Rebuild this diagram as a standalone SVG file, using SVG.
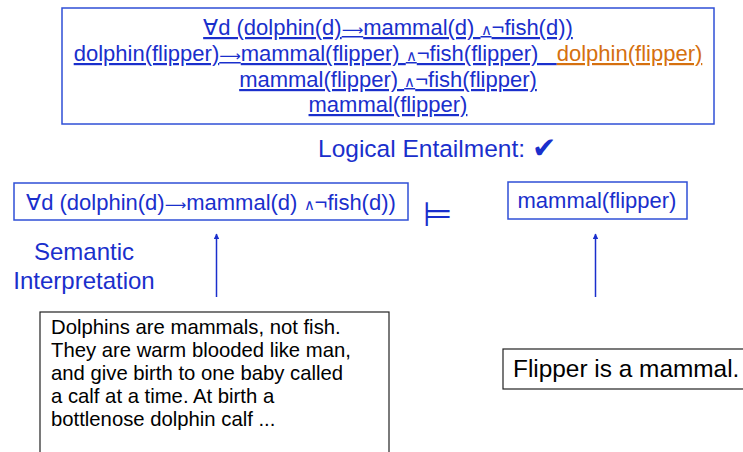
<svg xmlns="http://www.w3.org/2000/svg" width="743" height="452" viewBox="0 0 743 452">
<defs>
<style>
.f{font-family:"Liberation Sans",Arial,sans-serif}
.blue{fill:#1a2fcc}
.orange{fill:#d5700f}
.ul{text-decoration:underline;text-decoration-thickness:2px;text-underline-offset:3px}
.ar{font-family:"DejaVu Sans",sans-serif;font-size:15px}
.wd{font-size:15px}
.bbox{fill:none;stroke:#2f4fd6;stroke-width:1.5}
.kbox{fill:#fff;stroke:#222;stroke-width:1.2}
.conn{stroke:#1a2fcc;stroke-width:1.5;fill:none}
</style>
<marker id="ah" viewBox="0 0 10 10" refX="9" refY="5" markerWidth="5.5" markerHeight="5.5" orient="auto" markerUnits="userSpaceOnUse">
<path d="M0,0 L10,5 L0,10 z" fill="#1a2fcc"/>
</marker>
</defs>
<rect width="743" height="452" fill="#fff"/>

<g id="proof">
<rect class="bbox" x="62" y="8" width="652" height="116"/>
<text class="f blue ul" x="388" y="35" font-size="22" text-anchor="middle">∀d (dolphin(d)<tspan class="ar">⟶</tspan>mammal(d) <tspan class="wd">∧</tspan>¬fish(d))</text>
<text class="f" x="388" y="61" font-size="22" text-anchor="middle" style="white-space:pre"><tspan class="blue ul">dolphin(flipper)<tspan class="ar">⟶</tspan>mammal(flipper) <tspan class="wd">∧</tspan>¬fish(flipper)   </tspan><tspan class="orange ul">dolphin(flipper)</tspan></text>
<text class="f blue ul" x="388" y="87" font-size="22" text-anchor="middle">mammal(flipper) <tspan class="wd">∧</tspan>¬fish(flipper)</text>
<text class="f blue ul" x="388" y="112" font-size="22" text-anchor="middle">mammal(flipper)</text>
</g>

<g id="entailment-label">
<text class="f blue" x="318" y="157" font-size="24.5">Logical Entailment:</text>
<text class="blue" x="532" y="158" font-size="29" font-family="DejaVu Sans, sans-serif">✔</text>
</g>

<g id="premise">
<rect class="bbox" x="14" y="183" width="394" height="37"/>
<text class="f blue" x="211" y="210" font-size="22" text-anchor="middle">∀d (dolphin(d)<tspan class="ar">⟶</tspan>mammal(d) <tspan class="wd">∧</tspan>¬fish(d))</text>
</g>

<g id="entails">
<text x="437.5" y="226" font-size="34" font-family="DejaVu Sans, sans-serif" class="blue" text-anchor="middle">⊨</text>
</g>

<g id="conclusion">
<rect class="bbox" x="508" y="182" width="179" height="37"/>
<text class="f blue" x="597" y="208" font-size="22" text-anchor="middle">mammal(flipper)</text>
</g>

<g id="semantic-label">
<text class="f blue" x="84" y="260" font-size="24" text-anchor="middle">Semantic</text>
<text class="f blue" x="84" y="289" font-size="24" text-anchor="middle">Interpretation</text>
</g>

<g id="text-passage">
<rect class="kbox" x="40" y="312" width="349" height="160"/>
<text class="f" x="51" y="334" font-size="20.3" fill="#000">Dolphins are mammals, not fish.</text>
<text class="f" x="51" y="357" font-size="20.3" fill="#000">They are warm blooded like man,</text>
<text class="f" x="51" y="380" font-size="20.3" fill="#000">and give birth to one baby called</text>
<text class="f" x="51" y="403" font-size="20.3" fill="#000">a calf at a time. At birth a</text>
<text class="f" x="51" y="426" font-size="20.3" fill="#000">bottlenose dolphin calf ...</text>
</g>

<g id="text-claim">
<rect class="kbox" x="503" y="349" width="260" height="40"/>
<text class="f" x="513" y="377" font-size="24.4" fill="#000">Flipper is a mammal.</text>
</g>

<g id="connectors">
<line class="conn" x1="216.5" y1="297" x2="216.5" y2="234" marker-end="url(#ah)"/>
<line class="conn" x1="595.5" y1="297" x2="595.5" y2="234" marker-end="url(#ah)"/>
</g>
</svg>
